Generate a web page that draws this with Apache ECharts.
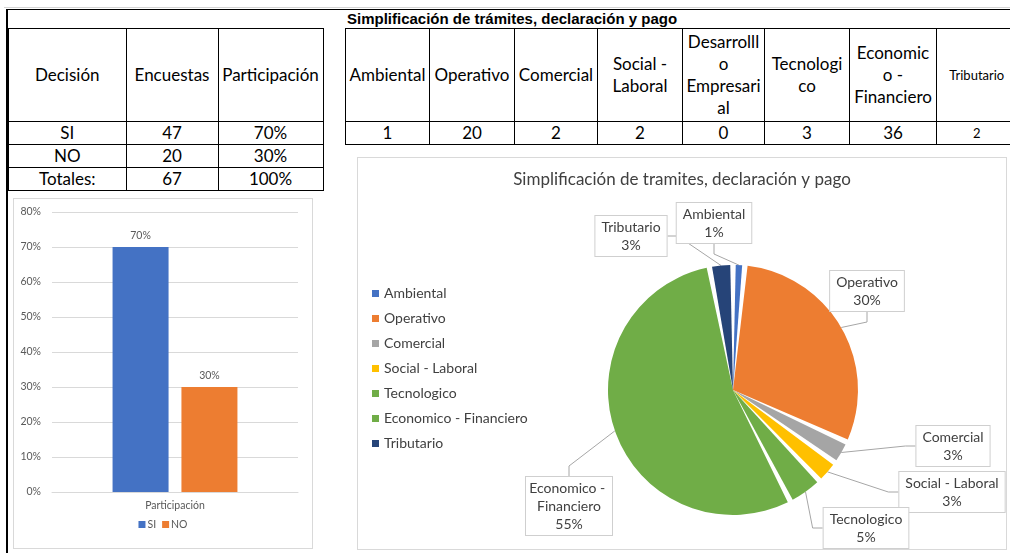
<!DOCTYPE html>
<html>
<head>
<meta charset="utf-8">
<script src="https://cdn.jsdelivr.net/npm/echarts@6.0.0/dist/echarts.min.js"></script>
<style>
  html, body { margin: 0; padding: 0; }
  body {
    width: 1010px;
    height: 553px;
    overflow: hidden;
    background: #fff;
    position: relative;
    font-family: 'Lato', sans-serif;
    color: #000;
  }
  .hline { position: absolute; height: 1px; background: #000; }
  .vline { position: absolute; width: 2px; background: #000; }
  table.grid {
    position: absolute;
    border-collapse: collapse;
    table-layout: fixed;
    font-size: 17px;
  }
  table.grid td {
    border: 1px solid #000;
    padding: 0;
    text-align: center;
    vertical-align: middle;
    line-height: 22px;
    overflow: hidden;
    white-space: nowrap;
  }
  .sheet-title {
    position: absolute;
    left: 347px;
    top: 10px;
    font: bold 15px 'Liberation Sans', Arial, sans-serif;
    line-height: 17px;
  }
  .box {
    position: absolute;
    box-sizing: border-box;
    border: 1px solid #d9d9d9;
    background: #fff;
  }
  td.small { font-size: 13px; }
</style>
</head>
<body>

<div class="hline" style="left:4px; top:7px; width:1006px; background:#d4d4d4"></div>
<div class="hline" style="left:7px; top:9px; width:1003px"></div>
<div class="vline" style="left:6px; top:9px; height:544px"></div>

<table class="grid" id="tblDecision" style="left:7px; top:28px; width:315px">
  <colgroup><col style="width:118px"><col style="width:92px"><col style="width:105px"></colgroup>
  <tbody></tbody>
</table>

<div class="sheet-title">Simplificación de trámites, declaración y pago</div>
<table class="grid" id="tblTramites" style="left:345px; top:28px; width:671px">
  <colgroup>
    <col style="width:84px"><col style="width:85px"><col style="width:83px"><col style="width:85px">
    <col style="width:82px"><col style="width:85px"><col style="width:87px"><col style="width:80px">
  </colgroup>
  <tbody></tbody>
</table>

<div class="box" id="barChart" style="left:13px; top:198px; width:300px; height:351px"></div>
<div class="box" id="pieChart" style="left:357px; top:157px; width:650px; height:393px"></div>

<script>
// encuesta: decision SI / NO
const decisiones = ['SI', 'NO'];
const encuestas = [47, 20];
const participacion = [0.70, 0.30];
const totalEncuestas = 67;
const totalParticipacion = 1.00;

// simplificacion de tramites por area
const areas = ['Ambiental', 'Operativo', 'Comercial', 'Social - Laboral',
  'Desarrolllo Empresarial', 'Tecnologico', 'Economico - Financiero', 'Tributario'];
const areaHeaders = [['Ambiental'], ['Operativo'], ['Comercial'], ['Social -', 'Laboral'],
  ['Desarrolll', 'o', 'Empresari', 'al'], ['Tecnologi', 'co'], ['Economic', 'o -', 'Financiero'], ['Tributario']];
const areaValores = [1, 20, 2, 2, 0, 3, 36, 2];

const yTicks = [0, 0.1, 0.2, 0.3, 0.4, 0.5, 0.6, 0.7, 0.8];

const pct = v => Math.round(v * 100) + '%';

// ---- tables ----
const decBody = document.querySelector('#tblDecision tbody');
let html = '<tr style="height:93px"><td>Decisión</td><td>Encuestas</td><td>Participación</td></tr>';
decisiones.forEach((d, i) => {
  html += `<tr style="height:23px"><td>${d}</td><td>${encuestas[i]}</td><td>${pct(participacion[i])}</td></tr>`;
});
html += `<tr style="height:23px"><td>Totales:</td><td>${totalEncuestas}</td><td>${pct(totalParticipacion)}</td></tr>`;
decBody.innerHTML = html;
decBody.querySelectorAll('tr').forEach(tr => { tr.firstElementChild.style.borderLeft = '2px solid #000'; });

const tramBody = document.querySelector('#tblTramites tbody');
const lastIdx = areas.length - 1;
tramBody.innerHTML =
  '<tr style="height:93px">' + areaHeaders.map((h, i) =>
    `<td${i === lastIdx ? ' class="small" style="border-right:none"' : ''}>${h.join('<br>')}</td>`).join('') + '</tr>' +
  '<tr style="height:23px">' + areaValores.map((v, i) =>
    `<td${i === lastIdx ? ' class="small" style="border-right:none"' : ''}>${v}</td>`).join('') + '</tr>';

// ---- bar chart ----
const txt = '#595959';
const barColors = ['#4472C4', '#ED7D31'];
const bar = echarts.init(document.getElementById('barChart'));
bar.setOption({
  animation: false,
  textStyle: { fontFamily: 'Lato' },
  grid: { left: 38, right: 14, top: 13, bottom: 56 },
  legend: {
    bottom: 13,
    left: 'center',
    icon: 'rect',
    itemWidth: 7,
    itemHeight: 7,
    itemGap: 6,
    textStyle: { fontSize: 10.5, color: txt, padding: [0, 0, 0, -3] },
    data: decisiones
  },
  xAxis: {
    type: 'category',
    data: ['Participación'],
    axisLine: { lineStyle: { color: '#d9d9d9' } },
    axisTick: { show: false },
    axisLabel: { color: txt, fontSize: 10.5, margin: 8 }
  },
  yAxis: {
    type: 'value',
    min: yTicks[0],
    max: yTicks[yTicks.length - 1],
    interval: 0.1,
    axisLine: { show: false },
    axisTick: { show: false },
    splitLine: { lineStyle: { color: '#d9d9d9' } },
    axisLabel: { color: txt, fontSize: 10.5, margin: 11, formatter: v => pct(v) }
  },
  series: decisiones.map((d, i) => ({
    name: d,
    type: 'bar',
    data: [participacion[i]],
    barWidth: 56,
    barGap: '23%',
    itemStyle: { color: barColors[i] },
    label: { show: true, position: 'top', distance: 6, color: txt, fontSize: 10.5, formatter: p => pct(p.value) }
  }))
});

// ---- pie chart ----
const areaColors = {
  'Ambiental': '#4472C4',
  'Operativo': '#ED7D31',
  'Comercial': '#A5A5A5',
  'Social - Laboral': '#FFC000',
  'Tecnologico': '#70AD47',
  'Economico - Financiero': '#70AD47',
  'Tributario': '#264478'
};
// label box centres, chart pixels
const labelPos = {
  'Ambiental': [356, 65],
  'Operativo': [509, 133],
  'Comercial': [595, 288],
  'Social - Laboral': [594, 334],
  'Tecnologico': [508, 370],
  'Economico - Financiero': [211, 348],
  'Tributario': [273, 78]
};

const pieData = areas
  .map((name, i) => ({ name, value: areaValores[i] }))
  .filter(d => d.value > 0)
  .map(d => ({
    ...d,
    itemStyle: { color: areaColors[d.name] },
    label: d.name === 'Economico - Financiero' ? { width: 82, overflow: 'break', padding: [2, 2] } : {}
  }));

const pie = echarts.init(document.getElementById('pieChart'));
pie.setOption({
  animation: false,
  textStyle: { fontFamily: 'Lato' },
  title: {
    text: 'Simplificación de tramites, declaración y pago',
    left: 'center',
    top: 8,
    textStyle: { fontFamily: 'Lato', fontSize: 17, fontWeight: 'normal', color: '#404040' }
  },
  legend: {
    orient: 'vertical',
    left: 9,
    top: 123,
    icon: 'rect',
    itemWidth: 7,
    itemHeight: 7,
    itemGap: 10,
    textStyle: { fontSize: 14, color: '#404040', lineHeight: 15 },
    selectedMode: false
  },
  series: [{
    type: 'pie',
    center: [375, 232],
    radius: 125,
    startAngle: 90,
    clockwise: true,
    padAngle: 2.5,
    percentPrecision: 0,
    avoidLabelOverlap: false,
    emphasis: { disabled: true },
    label: {
      show: true,
      formatter: '{b}\n{d}%',
      color: '#404040',
      fontSize: 14,
      lineHeight: 18,
      align: 'center',
      backgroundColor: '#fff',
      borderColor: '#cfcfcf',
      borderWidth: 1,
      padding: [2, 6]
    },
    labelLine: { show: true, length: 10, length2: 10, lineStyle: { color: '#a6a6a6', width: 1 } },
    labelLayout: p => {
      const pos = labelPos[pieData[p.dataIndex].name];
      return { x: pos[0], y: pos[1], align: 'center', verticalAlign: 'middle' };
    },
    data: pieData
  }]
});
</script>
</body>
</html>
